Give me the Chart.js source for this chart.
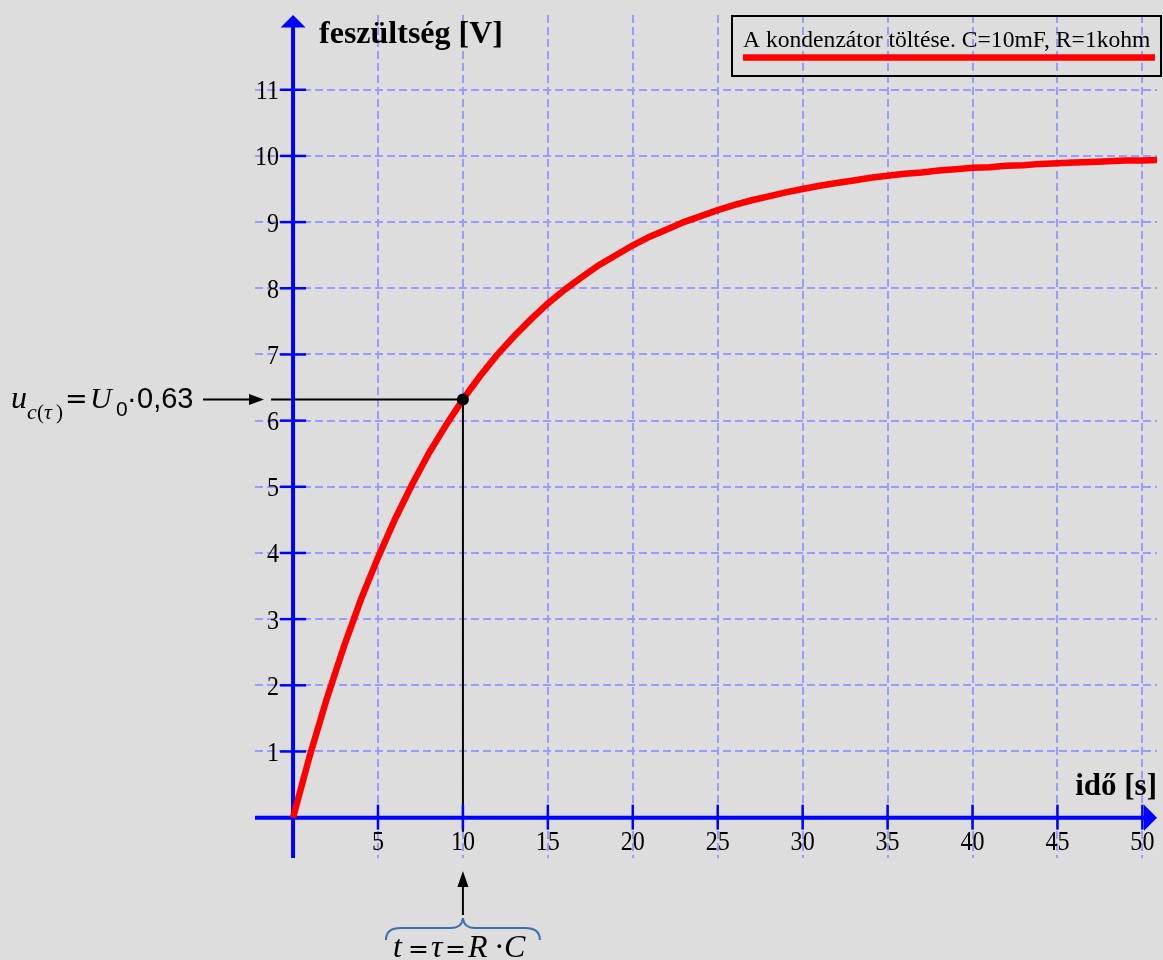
<!DOCTYPE html>
<html>
<head>
<meta charset="utf-8">
<title>Kondenzátor töltése</title>
<script src="https://cdn.jsdelivr.net/npm/chart.js@4.4.1/dist/chart.umd.min.js"></script>
<style>
html, body { margin: 0; padding: 0; background: #dddddd; }
#wrap { width: 1163px; height: 960px; position: relative; }
</style>
</head>
<body>
<div id="wrap"><canvas id="plot"></canvas></div>
<script>
// values
var timeSeconds = [0, 1, 2, 3, 4, 5, 6, 7, 8, 9, 10, 11, 12, 13, 14, 15, 16, 17, 18, 19, 20,
    21, 22, 23, 24, 25, 26, 27, 28, 29, 30, 31, 32, 33, 34, 35, 36, 37, 38, 39, 40,
    41, 42, 43, 44, 45, 46, 47, 48, 49, 50, 51];
var voltage = [0, 0.95, 1.81, 2.59, 3.30, 3.93, 4.51, 5.03, 5.51, 5.93, 6.32, 6.67, 6.99, 7.27, 7.53, 7.77,
    7.98, 8.17, 8.35, 8.50, 8.65, 8.78, 8.89, 9.00, 9.09, 9.18, 9.26, 9.33, 9.39, 9.45, 9.50,
    9.55, 9.59, 9.63, 9.67, 9.70, 9.73, 9.75, 9.78, 9.80, 9.82, 9.83, 9.85, 9.86, 9.88, 9.89,
    9.90, 9.91, 9.92, 9.93, 9.93, 9.94];
var tauTime = 10;
var tauVoltage = 6.32;

var xTickValues = [5, 10, 15, 20, 25, 30, 35, 40, 45, 50];
var xTickLabels = ["5", "10", "15", "20", "25", "30", "35", "40", "45", "50"];
var yTickValues = [1, 2, 3, 4, 5, 6, 7, 8, 9, 10, 11];
var yTickLabels = ["1", "2", "3", "4", "5", "6", "7", "8", "9", "10", "11"];
var xRange = [-2.24, 50.86];
var yRange = [-0.61, 12.13];

var xTitle = "idő [s]";
var yTitle = "feszültség [V]";
var legendText = "A kondenzátor töltése. C=10mF, R=1kohm";

var SERIF = "'Liberation Serif', 'Times New Roman', serif";
var SANS = "'Liberation Sans', Arial, sans-serif";
var EQ = "'DejaVu Serif', serif";
var BLUE = "#0000ff";

function line(ctx, x1, y1, x2, y2) {
    ctx.beginPath();
    ctx.moveTo(x1, y1);
    ctx.lineTo(x2, y2);
    ctx.stroke();
}

function tri(ctx, pts) {
    ctx.beginPath();
    ctx.moveTo(pts[0], pts[1]);
    ctx.lineTo(pts[2], pts[3]);
    ctx.lineTo(pts[4], pts[5]);
    ctx.closePath();
    ctx.fill();
}

function text(ctx, str, x, y, font, align) {
    ctx.font = font;
    ctx.textAlign = align || "left";
    ctx.fillText(str, x, y);
}

// tick numbers are a bit narrow in the original
function narrowText(ctx, str, x, y, font, align) {
    ctx.save();
    ctx.translate(x, y);
    ctx.scale(0.86, 1);
    text(ctx, str, 0, 0, font, align);
    ctx.restore();
}

var decorations = {
    id: "decorations",
    beforeDatasetsDraw: function(chart) {
        var ctx = chart.ctx, area = chart.chartArea;
        var xs = chart.scales.x, ys = chart.scales.y;
        var ox = xs.getPixelForValue(0), oy = ys.getPixelForValue(0);
        var tx = xs.getPixelForValue(tauTime), ty = ys.getPixelForValue(tauVoltage);
        ctx.save();

        // guide lines to the tau point
        ctx.strokeStyle = "#000";
        ctx.lineWidth = 2;
        ctx.beginPath();
        ctx.moveTo(ox - 22, ty);
        ctx.lineTo(tx, ty);
        ctx.lineTo(tx, oy + 14);
        ctx.stroke();

        // axes with arrows
        ctx.strokeStyle = BLUE;
        ctx.fillStyle = BLUE;
        ctx.lineWidth = 4;
        line(ctx, area.left, oy, area.right - 10, oy);
        line(ctx, ox, area.bottom, ox, area.top + 10);
        tri(ctx, [area.right, oy, area.right - 13, oy - 13, area.right - 13, oy + 13]);
        tri(ctx, [ox, area.top, ox - 12.5, area.top + 12.5, ox + 12.5, area.top + 12.5]);

        // tick marks
        ctx.lineWidth = 2.5;
        xTickValues.forEach(function(v) {
            var px = xs.getPixelForValue(v);
            line(ctx, px, oy - 13, px, oy + 12);
        });
        yTickValues.forEach(function(v) {
            var py = ys.getPixelForValue(v);
            line(ctx, ox - 13, py, ox + 13, py);
        });

        // tick labels
        ctx.fillStyle = "#000";
        ctx.textBaseline = "alphabetic";
        xTickValues.forEach(function(v, i) {
            narrowText(ctx, xTickLabels[i], xs.getPixelForValue(v), oy + 32, "28px " + SERIF, "center");
        });
        yTickValues.forEach(function(v, i) {
            narrowText(ctx, yTickLabels[i], ox - 14, ys.getPixelForValue(v) + 9.5, "28px " + SERIF, "right");
        });

        // axis titles
        text(ctx, yTitle, ox + 26, area.top + 28, "bold 32px " + SERIF, "left");
        text(ctx, xTitle, area.right, oy - 23, "bold 31px " + SERIF, "right");
        ctx.restore();
    },
    afterDraw: function(chart) {
        var ctx = chart.ctx;
        var xs = chart.scales.x, ys = chart.scales.y;
        var tx = xs.getPixelForValue(tauTime), ty = ys.getPixelForValue(tauVoltage);
        ctx.save();
        ctx.textBaseline = "alphabetic";

        // legend box
        ctx.strokeStyle = "#000";
        ctx.lineWidth = 2;
        ctx.strokeRect(732, 16, 429, 60);
        ctx.fillStyle = "#000";
        text(ctx, legendText, 743, 47, "23.6px " + SERIF, "left");
        ctx.strokeStyle = "#ff0000";
        ctx.lineWidth = 6.5;
        line(ctx, 743, 57.5, 1155, 57.5);

        // left label: u_c(tau) = U_0 * 0,63
        ctx.fillStyle = "#000";
        var b = ty + 8.5;
        text(ctx, "u", 11, b, "italic 32px " + SERIF);
        text(ctx, "c", 27, b + 11, "italic 22px " + SERIF);
        text(ctx, "(", 37, b + 11, "21px " + SERIF);
        text(ctx, "τ", 44, b + 11, "italic 22px " + SERIF);
        text(ctx, ")", 56, b + 11, "21px " + SERIF);
        text(ctx, "=", 65, b, "27px " + EQ);
        text(ctx, "U", 90, b, "italic 30px " + SERIF);
        text(ctx, "0", 116, b + 8, "21px " + SANS);
        text(ctx, "·", 127, b, "29px " + SANS);
        text(ctx, "0,63", 137, b, "29px " + SANS);

        ctx.strokeStyle = "#000";
        ctx.lineWidth = 2;
        line(ctx, 203, ty, 252, ty);
        tri(ctx, [264, ty, 249, ty - 5.5, 249, ty + 5.5]);

        // bottom label: t = tau = R*C
        line(ctx, tx, 915, tx, 884);
        tri(ctx, [tx, 871, tx - 5.5, 887, tx + 5.5, 887]);

        ctx.strokeStyle = "#3d6fb0";
        ctx.lineWidth = 2;
        ctx.beginPath();
        ctx.moveTo(tx - 77, 940);
        ctx.quadraticCurveTo(tx - 77, 928, tx - 62, 928);
        ctx.lineTo(tx - 12, 928);
        ctx.quadraticCurveTo(tx - 1, 928, tx, 918);
        ctx.quadraticCurveTo(tx + 1, 928, tx + 12, 928);
        ctx.lineTo(tx + 62, 928);
        ctx.quadraticCurveTo(tx + 77, 928, tx + 77, 940);
        ctx.stroke();

        ctx.fillStyle = "#000";
        var bb = 957;
        text(ctx, "t", tx - 70, bb, "italic 32px " + SERIF);
        text(ctx, "=", tx - 55, bb, "25px " + EQ);
        text(ctx, "τ", tx - 32, bb, "italic 32px " + SERIF);
        text(ctx, "=", tx - 18, bb, "25px " + EQ);
        text(ctx, "R", tx + 5, bb, "italic 32px " + SERIF);
        text(ctx, "·", tx + 31, bb, "32px " + SERIF);
        text(ctx, "C", tx + 41, bb, "italic 32px " + SERIF);
        ctx.restore();
    }
};

function createChart(canvas) {
    return new Chart(canvas, {
        type: "scatter",
        data: {
            datasets: [
            {
                label: legendText,
                data: timeSeconds.map(function(t, i) { return {x: t, y: voltage[i]}; }),
                showLine: true,
                borderColor: "#ff0000",
                borderWidth: 6.5,
                pointRadius: 0,
                tension: 0,
                order: 2,
            },
            {
                label: "tau",
                data: [{x: tauTime, y: tauVoltage}],
                pointRadius: 6,
                pointBackgroundColor: "#000",
                pointBorderColor: "#000",
                pointBorderWidth: 0,
                order: 1,
            },
            ]
        },
        options: {
            animation: false,
            responsive: true,
            maintainAspectRatio: false,
            devicePixelRatio: 1,
            layout: {
                padding: {left: 255, top: 15, right: 0, bottom: 102}
            },
            scales: {
                x: {
                    type: "linear",
                    min: xRange[0],
                    max: xRange[1],
                    afterBuildTicks: function(scale) {
                        scale.ticks = xTickValues.map(function(v) { return {value: v}; });
                    },
                    ticks: {display: false},
                    grid: {color: "#9b9bff", lineWidth: 2, drawTicks: false},
                    border: {display: false, dash: [8, 4]},
                },
                y: {
                    type: "linear",
                    min: yRange[0],
                    max: yRange[1],
                    afterBuildTicks: function(scale) {
                        scale.ticks = yTickValues.map(function(v) { return {value: v}; });
                    },
                    ticks: {display: false},
                    grid: {color: "#9b9bff", lineWidth: 2, drawTicks: false},
                    border: {display: false, dash: [8, 4]},
                }
            },
            plugins: {
                legend: {display: false},
                tooltip: {enabled: false}
            }
        },
        plugins: [decorations]
    });
}

window.addEventListener("load", function() {
    createChart(document.getElementById("plot"));
});
</script>
</body>
</html>
